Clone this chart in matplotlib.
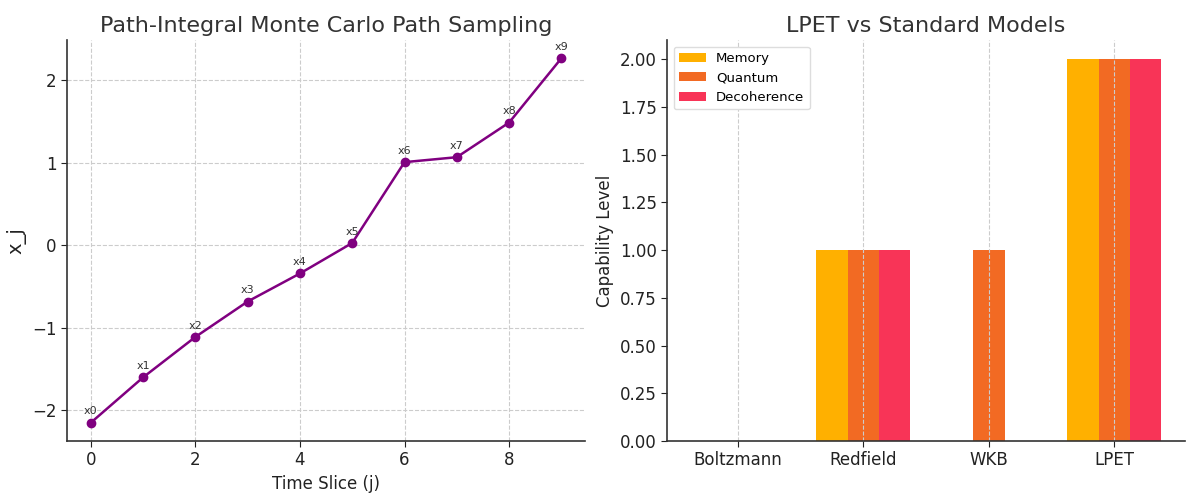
import numpy as np
import matplotlib.pyplot as plt

# data vänster
slices = np.arange(10)
path_x = [-2.15, -1.6, -1.11, -0.68, -0.34, 0.03, 1.01, 1.07, 1.49, 2.27]
point_labels = [f"x{j}" for j in slices]

# data höger
models = ["Boltzmann", "Redfield", "WKB", "LPET"]
memory = [0, 1, 0, 2]
quantum = [0, 1, 1, 2]
decoherence = [0, 1, 0, 2]
series_names = ["Memory", "Quantum", "Decoherence"]
colors = ["#FFB000", "#F26A23", "#F83457"]

plt.rcParams['font.family'] = 'DejaVu Sans'
fig, ax = plt.subplots(1, 2, figsize=(12, 5), dpi=100)

def style(a):
    for s in ["top", "right"]:
        a.spines[s].set_visible(False)
    for s in ["left", "bottom"]:
        a.spines[s].set_color("#333333")
        a.spines[s].set_linewidth(1.2)
    a.tick_params(labelsize=12, colors="#222222", direction="out", length=4)

# vänster plot
a = ax[0]
a.plot(slices, path_x, color="purple", marker="o", markersize=6, linewidth=1.8)
for j, v, t in zip(slices, path_x, point_labels):
    a.annotate(t, (j, v), textcoords="offset points", xytext=(0, 6), ha="center",
               fontsize=8, color="#333333")
a.set_title("Path-Integral Monte Carlo Path Sampling", fontsize=16, color="#333333")
a.set_xlabel("Time Slice (j)", fontsize=12, color="#222222")
a.set_ylabel("x_j", fontsize=14, color="#222222")
a.grid(True, linestyle="--", color="#cccccc", linewidth=0.8)
a.set_xticks([0, 2, 4, 6, 8])
style(a)

# höger plot
b = ax[1]
xpos = np.arange(len(models))
w = 0.25
for k, (vals, name, c) in enumerate(zip([memory, quantum, decoherence], series_names, colors)):
    b.bar(xpos + (k - 1) * w, vals, width=w, color=c, label=name)
b.set_xticks(xpos)
b.set_xticklabels(models)
b.set_title("LPET vs Standard Models", fontsize=16, color="#333333")
b.set_ylabel("Capability Level", fontsize=12, color="#222222")
b.set_yticks(np.arange(0, 2.01, 0.25))
b.set_yticklabels([f"{v:.2f}" for v in np.arange(0, 2.01, 0.25)])
b.set_ylim(0, 2.1)
b.grid(True, axis="x", linestyle="--", color="#cccccc", linewidth=0.8)
b.legend(loc="upper left", fontsize=9.5, framealpha=1, edgecolor="#dddddd")
style(b)

fig.subplots_adjust(left=0.056, right=0.9875, bottom=0.118, top=0.92, wspace=0.159)
fig.savefig("out.png")
